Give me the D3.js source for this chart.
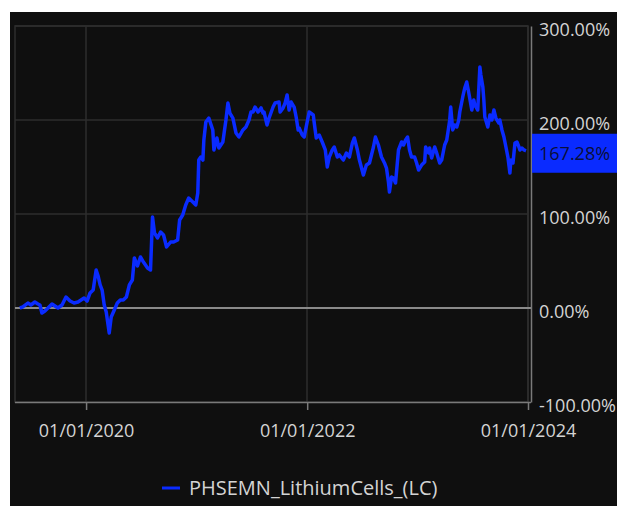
<!DOCTYPE html>
<html><head><meta charset="utf-8">
<script src="https://cdn.jsdelivr.net/npm/d3@7"></script>
<style>html,body{margin:0;padding:0;background:#fff;}svg{display:block;}</style>
</head><body>
<svg id="chart" width="617" height="506"></svg>
<script>
// decimal years
const times = [2019.400,2019.427,2019.473,2019.500,2019.536,2019.564,2019.582,2019.600,2019.627,2019.655,2019.691,2019.718,2019.745,2019.782,2019.818,2019.855,2019.891,2019.927,2019.982,2020.009,2020.036,2020.064,2020.091,2020.109,2020.127,2020.145,2020.164,2020.182,2020.209,2020.227,2020.255,2020.282,2020.309,2020.336,2020.364,2020.391,2020.418,2020.436,2020.464,2020.491,2020.518,2020.555,2020.582,2020.600,2020.618,2020.645,2020.673,2020.700,2020.727,2020.764,2020.791,2020.827,2020.845,2020.873,2020.900,2020.927,2020.964,2020.991,2021.009,2021.018,2021.036,2021.055,2021.064,2021.082,2021.109,2021.145,2021.155,2021.182,2021.200,2021.236,2021.264,2021.282,2021.300,2021.327,2021.355,2021.382,2021.418,2021.445,2021.473,2021.491,2021.509,2021.527,2021.555,2021.582,2021.600,2021.609,2021.636,2021.655,2021.691,2021.709,2021.745,2021.755,2021.782,2021.800,2021.818,2021.836,2021.855,2021.882,2021.900,2021.918,2021.927,2021.955,2021.973,2021.991,2022.018,2022.055,2022.064,2022.082,2022.109,2022.136,2022.164,2022.182,2022.200,2022.227,2022.245,2022.273,2022.291,2022.327,2022.355,2022.382,2022.409,2022.427,2022.455,2022.473,2022.509,2022.536,2022.564,2022.600,2022.618,2022.645,2022.673,2022.700,2022.718,2022.736,2022.745,2022.764,2022.782,2022.800,2022.827,2022.855,2022.873,2022.891,2022.909,2022.927,2022.945,2022.973,2022.991,2023.009,2023.036,2023.064,2023.073,2023.100,2023.109,2023.127,2023.155,2023.173,2023.200,2023.218,2023.236,2023.245,2023.264,2023.282,2023.291,2023.300,2023.318,2023.336,2023.355,2023.373,2023.382,2023.409,2023.427,2023.445,2023.464,2023.491,2023.509,2023.518,2023.545,2023.564,2023.573,2023.591,2023.600,2023.609,2023.636,2023.655,2023.673,2023.691,2023.709,2023.736,2023.745,2023.764,2023.782,2023.800,2023.818,2023.836,2023.845,2023.864,2023.882,2023.900,2023.918,2023.927,2023.945,2023.964,2023.982];
const values = [0,1.1,5.3,3.2,6.4,4.3,3.2,-5.3,-3.2,0,4.3,2.1,0,3.2,11.7,7.4,5.3,6.4,10.6,7.4,16.0,19.1,40.4,34.0,24.5,19.1,3.2,-4.3,-26.6,-9.6,-2.1,5.3,8.5,8.5,11.7,24.5,29.8,53.2,44.7,54.3,48.9,42.6,40.4,96.8,79.8,74.5,80.9,77.7,64.9,70.2,70.2,72.3,93.6,98.9,109.6,117.0,112.8,109.6,122.3,157.4,160.6,157.4,178.7,197.9,202.1,189.4,168.1,180.9,170.2,176.6,200.0,218.1,207.4,202.1,186.2,181.9,189.4,192.6,200.0,208.5,208.5,213.8,208.5,212.8,207.4,208.5,194.7,202.1,213.8,218.1,219.1,208.5,212.8,218.1,226.6,210.6,219.1,213.8,203.2,189.4,191.5,184.0,181.9,192.6,208.5,205.3,196.8,180.9,184.0,176.6,168.1,150.0,160.6,168.1,171.3,160.6,162.8,157.4,164.9,160.6,175.5,180.9,168.1,157.4,141.5,152.1,154.3,171.3,181.9,173.4,160.6,154.3,148.9,134.0,123.4,139.4,138.3,133.0,168.1,176.6,173.4,178.7,181.9,168.1,160.6,160.6,154.3,146.8,152.1,155.3,171.3,164.9,170.2,159.6,171.3,164.9,154.3,157.4,168.1,173.4,178.7,192.6,200.0,213.8,189.4,194.7,192.6,200.0,208.5,224.5,234.0,240.4,228.7,210.6,221.3,216.0,210.6,256.4,247.9,235.1,221.3,203.2,192.6,205.3,200.0,210.6,202.1,196.8,200.0,189.4,181.9,171.3,160.6,143.6,157.4,154.3,175.5,176.6,171.3,168.1,170.2,168.1,167.28];
const yTicks = [300, 200, 100, 0, -100];
const xTickLabels = ["01/01/2020", "01/01/2022", "01/01/2024"];
const xTickDates = ["2020-01-01", "2022-01-01", "2024-01-01"];
const seriesName = "PHSEMN_LithiumCells_(LC)";
const lastValue = 167.28;

function decYear(t) {
  const y = Math.floor(t);
  const s = Date.UTC(y, 0, 1), e = Date.UTC(y + 1, 0, 1);
  return new Date(s + (t - y) * (e - s));
}
const data = times.map((t, i) => ({ d: decYear(t), v: values[i] }));

const svg = d3.select("#chart");
const font = "'Open Sans', 'Noto Sans', sans-serif";
const textCol = "#d4d4d4";
const blue = "#0a2bff";

svg.append("rect").attr("x", 10).attr("y", 12).attr("width", 607).attr("height", 494).attr("fill", "#0f0f0f");

const L = 15, R = 528, T = 26, B = 402;
const x = d3.scaleUtc().domain([new Date(Date.UTC(2019, 4, 11)), new Date(Date.UTC(2024, 0, 1))]).range([L, R]);
const y = d3.scaleLinear().domain([-100, 300]).range([B, T]);

// frame + grid
const g = svg.append("g");
g.append("rect").attr("x", L).attr("y", T).attr("width", R - L).attr("height", B - T)
  .attr("fill", "none").attr("stroke", "#2e2e2e").attr("stroke-width", 1.5);
xTickDates.forEach(s => {
  const xx = Math.round(x(new Date(s + "T00:00:00Z")));
  g.append("line").attr("x1", xx).attr("x2", xx).attr("y1", T).attr("y2", B)
    .attr("stroke", "#2e2e2e").attr("stroke-width", 1.5);
});
yTicks.forEach(v => {
  if (v === 0 || v === -100) return;
  g.append("line").attr("x1", L).attr("x2", R).attr("y1", y(v)).attr("y2", y(v))
    .attr("stroke", "#2e2e2e").attr("stroke-width", 1.5);
});
// zero line
g.append("line").attr("x1", L).attr("x2", 531).attr("y1", y(0)).attr("y2", y(0))
  .attr("stroke", "#8a8a8a").attr("stroke-width", 2);

// bottom axis
const xAxis = d3.axisBottom(x)
  .tickValues(xTickDates.map(s => new Date(s + "T00:00:00Z")))
  .tickFormat((d, i) => xTickLabels[i]).tickSize(8).tickPadding(14);
const xa = svg.append("g").attr("transform", `translate(0,${B})`).call(xAxis);
xa.select(".domain").attr("stroke", "#7a7a7a").attr("stroke-width", 1.5).attr("d", `M${L},0.5H531`);
xa.selectAll(".tick line").attr("stroke", "#7a7a7a").attr("stroke-width", 1.5);
xa.selectAll("text").attr("fill", textCol).attr("font-family", font).attr("font-size", 18);

// right axis
const yAxis = d3.axisRight(y).tickValues(yTicks).tickFormat(v => v.toFixed(2) + "%").tickSize(0).tickPadding(8);
const ya = svg.append("g").attr("transform", `translate(531,0)`).call(yAxis);
ya.select(".domain").attr("stroke", "#7a7a7a").attr("stroke-width", 1.5);
ya.selectAll("text").attr("fill", textCol).attr("font-family", font).attr("font-size", 18).attr("dy", "0.55em");

// line
svg.append("path").datum(data)
  .attr("d", d3.line().x(d => x(d.d)).y(d => y(d.v)))
  .attr("fill", "none").attr("stroke", blue).attr("stroke-width", 3.5).attr("stroke-linejoin", "round");

// last value box
const yl = y(lastValue);
svg.append("rect").attr("x", 532).attr("y", yl - 17).attr("width", 85).attr("height", 39).attr("fill", blue);
svg.append("text").attr("x", 539).attr("y", yl + 3).attr("dy", "0.35em")
  .attr("fill", "#0a0f3a").attr("font-family", font).attr("font-size", 18)
  .text(lastValue.toFixed(2) + "%");

// legend
svg.append("line").attr("x1", 162).attr("x2", 180).attr("y1", 488).attr("y2", 488)
  .attr("stroke", blue).attr("stroke-width", 3);
svg.append("text").attr("x", 189).attr("y", 488).attr("dy", "0.35em")
  .attr("fill", textCol).attr("font-family", font).attr("font-size", 20).text(seriesName);
</script>
</body></html>
